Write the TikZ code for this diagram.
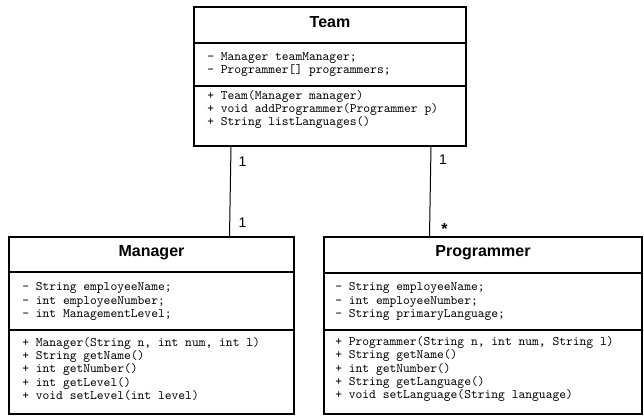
\documentclass[tikz,border=0pt]{standalone}
\usepackage{fontspec}
\setmainfont{Liberation Sans}
\usetikzlibrary{calc}

\begin{document}
\begin{tikzpicture}[x=0.75pt,y=0.75pt,yscale=-1,xscale=1,
  classbox/.style={draw, line width=1.5pt, anchor=north west, inner sep=0pt, outer sep=0pt},
  classname/.style={inner sep=0pt, font=\fontsize{12}{14}\selectfont\bfseries},
  members/.style={anchor=west, align=left, inner sep=0pt, font=\ttfamily\fontsize{9.7}{10.1}\selectfont},
  divider/.style={line width=1.5pt},
  assoc/.style={line width=0.75pt},
  mult/.style={inner sep=0pt, font=\fontsize{10.5}{12}\selectfont}]
\useasboundingbox (0,0) rectangle (644,417);

% Class boxes
\node [classbox, minimum width=204pt, minimum height=104.25pt] (team) at (194,7) {};
\node [classbox, minimum width=213.75pt, minimum height=132.75pt] (manager) at (9,237) {};
\node [classbox, minimum width=238.5pt, minimum height=132.75pt] (programmer) at (324,237) {};

% Compartment lines
\draw [divider] ($(team.north west)+(0,36)$) -- ($(team.north east)+(0,36)$) ;
\draw [divider] ($(team.north west)+(0,79)$) -- ($(team.north east)+(0,79)$) ;
\draw [divider] ($(manager.north west)+(0,35.5)$) -- ($(manager.north east)+(0,35.5)$) ;
\draw [divider] ($(manager.north west)+(0,93)$) -- ($(manager.north east)+(0,93)$) ;
\draw [divider] ($(programmer.north west)+(0,36)$) -- ($(programmer.north east)+(0,36)$) ;
\draw [divider] ($(programmer.north west)+(0,93)$) -- ($(programmer.north east)+(0,93)$) ;

% Class names
\node [classname] (team-name) at ($(team.north)+(0,15.5)$) {Team};
\node [classname] (manager-name) at ($(manager.north)+(0,16)$) {Manager};
\node [classname] (programmer-name) at ($(programmer.north)+(0,16)$) {Programmer};

% Team members
\node [members] (team-attr) at ($(team.north west)+(13,57.5)$) {- Manager teamManager;\\- Programmer[] programmers;};
\node [members] (team-ops) at ($(team.north west)+(13,102.5)$) {+ Team(Manager manager)\\+ void addProgrammer(Programmer p)\\+ String listLanguages()};

% Manager members
\node [members] (manager-attr) at ($(manager.north west)+(13,64.5)$) {- String employeeName;\\- int employeeNumber;\\- int ManagementLevel;};
\node [members] (manager-ops) at ($(manager.north west)+(13,132)$) {+ Manager(String n, int num, int l)\\+ String getName()\\+ int getNumber()\\+ int getLevel()\\+ void setLevel(int level)};

% Programmer members
\node [members] (programmer-attr) at ($(programmer.north west)+(11,64.5)$) {- String employeeName;\\- int employeeNumber;\\- String primaryLanguage;};
\node [members] (programmer-ops) at ($(programmer.north west)+(11,132)$) {+ Programmer(String n, int num, String l)\\+ String getName()\\+ int getNumber()\\+ String getLanguage()\\+ void setLanguage(String language)};

% Associations
\draw [assoc] ($(team.south west)+(37,0)$) -- ($(manager.north west)+(220.5,0)$) ;
\draw [assoc] ($(team.south west)+(237,0)$) -- ($(programmer.north west)+(105.5,0)$) ;

% Multiplicities
\node [mult] (mult-tm) at (242.5,162) {1};
\node [mult] (mult-m) at (242.5,223) {1};
\node [mult] (mult-tp) at (443,160) {1};
\node [mult, font=\fontsize{12}{14}\selectfont\bfseries] (mult-p) at (444.5,229) {*};

\end{tikzpicture}
\end{document}
